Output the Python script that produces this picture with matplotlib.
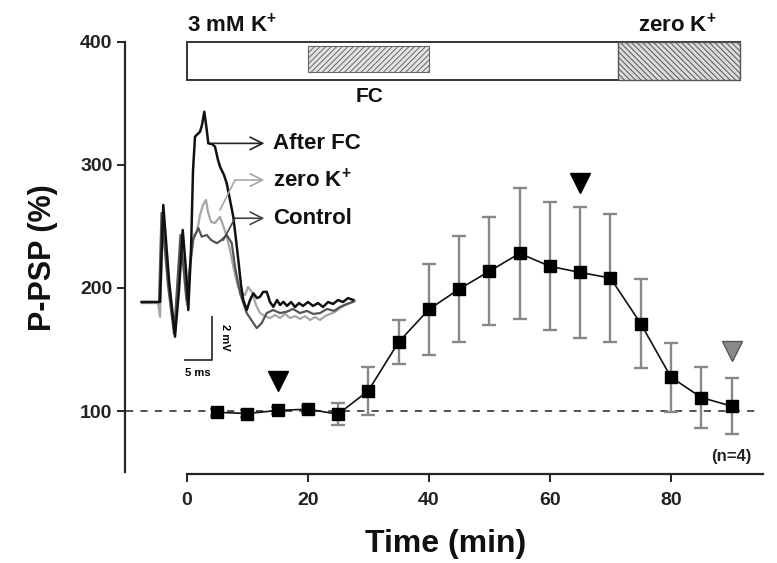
import matplotlib
matplotlib.use("Agg")
import matplotlib.pyplot as plt
from matplotlib.patches import Rectangle

plt.rcParams['font.family'] = ['Liberation Sans', 'DejaVu Sans']
plt.rcParams['font.weight'] = 'bold'
plt.rcParams['mathtext.fontset'] = 'custom'
plt.rcParams['mathtext.rm'] = 'Liberation Sans'
plt.rcParams['mathtext.bf'] = 'Liberation Sans:bold'
plt.rcParams['hatch.linewidth'] = 0.7

# ---------------- data ----------------
time_min = [5, 10, 15, 20, 25, 30, 35, 40, 45, 50, 55, 60, 65, 70, 75, 80, 85, 90]
ppsp_mean = [99, 98, 100.5, 101.5, 97.5, 116.5, 156, 182.5, 199, 213.5, 228,
             217.5, 212.5, 208, 171, 127.5, 111, 104]
ppsp_sem = [3, 3, 3, 3, 9, 19.5, 18, 37, 43, 44, 53, 52, 53, 52, 36, 28, 25, 23]

black_arrow_t = [15, 65]
black_arrow_y = [124, 285]
gray_arrow_t = [90]
gray_arrow_y = [149]

x_ticks = [0, 20, 40, 60, 80]
y_ticks = [100, 200, 300, 400]

# protocol bar (start, end) in min
bar_total = (0, 91.4)
fc_period = (20, 40)
zerok_period = (71.2, 91.4)

# inset traces: time (ms), voltage (mV)
after_fc_t = [0.3, 2.25, 3.75, 4.36, 5.43, 6.55, 7.30, 8.0, 8.61, 9.04, 9.55, 9.93, 10.30,
              11.24, 11.61, 12.04, 12.45, 12.79, 13.48, 14.04, 14.61, 14.98, 15.73, 16.24,
              16.85, 17.47, 17.98, 18.41, 18.91, 19.34, 19.98, 20.60, 21.22, 21.91, 22.47,
              23.03, 23.73, 24.34, 24.96, 25.66, 26.22, 26.84, 27.53, 28.28, 29.03, 29.78,
              30.52, 31.46, 32.40, 33.33, 34.27, 35.21, 36.14, 37.08, 38.01, 38.95, 39.94]
after_fc_v = [0.0, 0.0, 0.0, 4.47, 1.01, -1.60, 0.55, 3.32, 1.47, -0.37, 2.40, 6.08, 7.62,
              7.85, 8.16, 8.77, 8.02, 7.31, 7.28, 7.16, 6.54, 6.24, 5.85, 5.47,
              4.70, 3.93, 2.86, 1.94, 0.78, 0.09, -0.37, 0.09, 0.40, 0.18, 0.24,
              0.46, 0.47, 0.0, -0.22, 0.09, -0.14, 0.01, -0.18, 0.0, -0.23, -0.05,
              -0.18, 0.0, -0.18, -0.05, -0.23, 0.0, -0.09, 0.09, 0.0, 0.18, 0.09]

zerok_t = [0.37, 3.37, 3.75, 4.31, 5.43, 6.55, 7.68, 8.80, 9.55, 10.11, 10.67, 11.24, 11.80,
           12.36, 12.73, 13.30, 14.04, 14.61, 14.98, 15.73, 16.29, 16.85, 17.60, 18.35,
           18.91, 19.66, 20.22, 20.97, 21.72, 22.47, 23.41, 24.34, 25.28, 26.22, 27.15,
           28.09, 29.03, 29.96, 30.90, 31.84, 32.77, 33.71, 34.64, 35.58, 36.52, 37.45,
           38.39, 39.33, 40.26]
zerok_v = [-0.05, -0.05, -0.69, 4.01, 0.78, -1.43, 2.86, -0.14, 1.94, 3.09, 3.23, 4.01, 4.47,
           4.70, 4.15, 3.69, 3.64, 3.82, 3.92, 3.41, 2.95, 2.40, 1.47, 0.69,
           0.46, 0.32, 0.69, 0.46, -0.14, -0.51, -0.65, -0.74, -0.60, -0.74, -0.55,
           -0.74, -0.65, -0.78, -0.65, -0.83, -0.69, -0.83, -0.65, -0.55, -0.46, -0.28,
           -0.14, -0.05, 0.05]

control_t = [0.37, 3.56, 4.03, 5.24, 6.37, 7.58, 8.71, 9.36, 9.93, 10.49, 10.92, 11.55,
             12.49, 13.30, 14.36, 15.30, 16.24, 17.17, 17.79, 18.73, 19.98, 21.22, 21.85,
             22.79, 23.73, 24.91, 26.22, 27.47, 28.65, 29.96, 31.27, 32.40, 33.71, 35.02,
             36.33, 37.45, 38.76, 39.94]
control_v = [0.0, 0.0, 4.10, 0.78, -1.47, 3.09, 0.09, 1.71, 2.86, 3.18, 3.41, 3.01,
             3.09, 2.86, 2.71, 2.86, 3.09, 2.72, 1.63, 0.41, -0.51, -0.97, -1.20,
             -0.97, -0.51, -0.37, -0.51, -0.45, -0.32, -0.51, -0.41, -0.55, -0.51, -0.32,
             -0.41, -0.23, -0.09, 0.01]

trace_labels = ['After FC', 'zero K$^{\\mathbf{+}}$', 'Control']

# ---------------- figure ----------------
fig = plt.figure(figsize=(7.77, 5.63), dpi=100)
ax = fig.add_axes([125 / 777, 1 - 474 / 563, (763 - 125) / 777, (474 - 41.5) / 563])
ax.set_xlim(-10.2, 95.2)
ax.set_ylim(48.9, 400)

axis_col = '#262626'
for s in ['top', 'right']:
    ax.spines[s].set_visible(False)
ax.spines['left'].set_bounds(50.5, 400)
ax.spines['bottom'].set_bounds(0, 95.2)
for s in ['left', 'bottom']:
    ax.spines[s].set_linewidth(1.6)
    ax.spines[s].set_color(axis_col)
ax.set_xticks(x_ticks)
ax.set_yticks(y_ticks)
ax.tick_params(axis='both', direction='out', width=1.4, color=axis_col,
               labelsize=14, labelcolor='#222222')
ax.tick_params(axis='y', length=6, pad=3)
ax.tick_params(axis='x', length=6, pad=7)
for lab in ax.get_xticklabels() + ax.get_yticklabels():
    lab.set_fontweight('bold')

ax.set_xlabel('Time (min)', fontsize=23, fontweight='bold', color='#111111')
ax.set_ylabel('P-PSP (%)', fontsize=22, fontweight='bold', color='#111111')
ax.xaxis.set_label_coords(0.503, -0.127)
ax.yaxis.set_label_coords(-0.105, 0.5)

# baseline dashed
ax.hlines(100, -10, 94, colors='#444444', linestyles=(0, (4, 4)), linewidth=1.3, zorder=1)

# data
ax.errorbar(time_min, ppsp_mean, yerr=ppsp_sem, fmt='none', ecolor='#888888',
            elinewidth=1.7, capsize=5, capthick=1.7, zorder=2)
ax.plot(time_min, ppsp_mean, color='#111111', linewidth=1.2, marker='s',
        markersize=8.5, markerfacecolor='black', markeredgecolor='black', zorder=3)

ax.plot(black_arrow_t, black_arrow_y, linestyle='none', marker='v', markersize=15,
        color='black', zorder=4)
ax.plot(gray_arrow_t, gray_arrow_y, linestyle='none', marker='v', markersize=15,
        markerfacecolor='#8a8a8a', markeredgecolor='#555555', markeredgewidth=1, zorder=4)

# protocol bar
ax.add_patch(Rectangle((bar_total[0], 369), bar_total[1] - bar_total[0], 31,
                       facecolor='white', edgecolor='#333333', linewidth=1.4, clip_on=False, zorder=2))
ax.add_patch(Rectangle((fc_period[0], 375), fc_period[1] - fc_period[0], 21,
                       facecolor='#e4e4e4', edgecolor='#666666', hatch='//////',
                       linewidth=0.8, clip_on=False, zorder=3))
ax.add_patch(Rectangle((zerok_period[0], 369), zerok_period[1] - zerok_period[0], 31,
                       facecolor='#dcdcdc', edgecolor='#555555', hatch='\\\\\\\\\\\\',
                       linewidth=1.0, clip_on=False, zorder=3))

ax.text(0, 413, '3 mM K$^{\\mathbf{+}}$', fontsize=16, fontweight='bold',
        ha='left', va='center', clip_on=False, color='#111111')
ax.text(74.5, 413, 'zero K$^{\\mathbf{+}}$', fontsize=16, fontweight='bold',
        ha='left', va='center', clip_on=False, color='#111111')
ax.text(30.2, 355, 'FC', fontsize=15, fontweight='bold', ha='center', va='center',
        color='#111111')
ax.text(90, 63.5, '(n=4)', fontsize=12, fontweight='bold', ha='center', va='center',
        color='#222222')

# ---------------- inset ----------------
ins = fig.add_axes([135 / 777, 1 - 385 / 563, (375 - 135) / 777, (385 - 100) / 563])
ins.set_xlim(-0.936, 44.0)
ins.set_ylim(-3.825, 9.309)
ins.axis('off')
ins.patch.set_alpha(0)

ins.plot(zerok_t, zerok_v, color='#a6a6a6', linewidth=1.6, zorder=2)
ins.plot(control_t, control_v, color='#555555', linewidth=1.6, zorder=3)
ins.plot(after_fc_t, after_fc_v, color='#111111', linewidth=1.8, zorder=4)

arrow_cols = ['#222222', '#a6a6a6', '#444444']
arrow_paths = [
    [(13.43, 7.31), (13.43, 7.31)],
    [(14.98, 4.24), (17.79, 5.62)],
    [(15.6, 2.86), (17.79, 3.86)],
]
arrow_y = [7.31, 5.62, 3.86]
for path, yy, col, lab in zip(arrow_paths, arrow_y, arrow_cols, trace_labels):
    ins.plot([p[0] for p in path], [p[1] for p in path], color=col, linewidth=1.2, zorder=5)
    ins.annotate('', xy=(23.3, yy), xytext=(path[-1][0], yy),
                 arrowprops=dict(arrowstyle='->,head_length=0.9,head_width=0.45',
                                 color=col, lw=1.2, shrinkA=0, shrinkB=0), zorder=5)
    ins.text(24.9, yy, lab, fontsize=16, fontweight='bold', ha='left', va='center',
             color='#111111')

# scale bar
ins.plot([8.43, 13.43, 13.43], [-2.67, -2.67, -0.67], color='#333333', linewidth=1.3)
ins.text(10.9, -3.27, '5 ms', fontsize=8, fontweight='bold', ha='center', va='center')
ins.text(15.9, -1.65, '2 mV', fontsize=8, fontweight='bold', ha='center', va='center',
         rotation=270)

fig.savefig('out.png', dpi=100)
